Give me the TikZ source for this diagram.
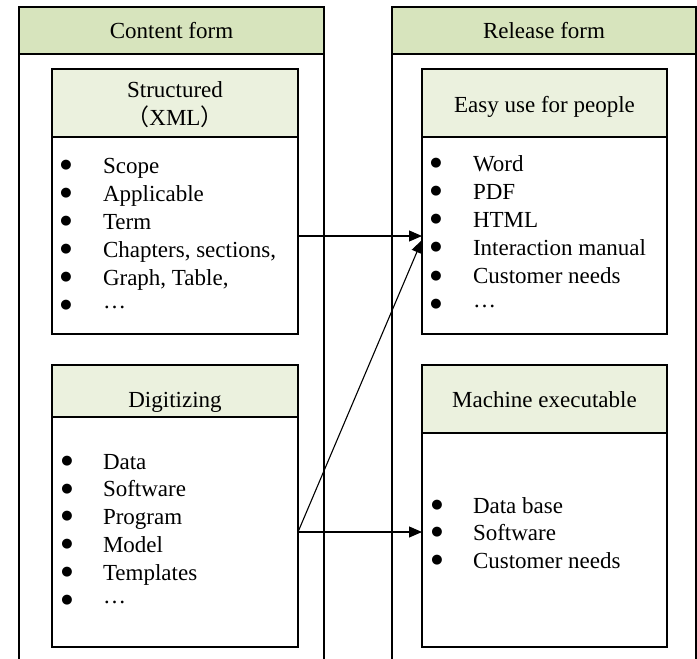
\documentclass[tikz,border=0pt]{standalone}
\usepackage{fontspec}
\setmainfont{Liberation Serif}
\newfontfamily\cjk{Noto Sans CJK SC}
\newfontfamily\dejavu{DejaVu Sans}
\usetikzlibrary{arrows.meta}
\definecolor{headOuter}{RGB}{215,228,189}
\definecolor{headInner}{RGB}{235,241,222}
% mid-height ellipsis for the last list entries
\newcommand{\midellipsis}{\smash{\raisebox{5pt}{…}}}

\begin{document}
\begin{tikzpicture}[x=1pt,y=-1pt,
  every node/.style={font=\fontsize{23}{28}\selectfont, inner sep=0pt, outer sep=0pt},
  frame/.style={draw, line width=1.2pt, rectangle, anchor=north west},
  colhead/.style={frame, fill=headOuter},
  boxhead/.style={frame, fill=headInner},
  label/.style={anchor=base},
  item/.style={anchor=base west},
  bulletmark/.style={anchor=center, font=\dejavu\fontsize{13}{13}\selectfont},
  colline/.style={line width=1.1pt},
  arr/.style={line width=1.1pt, -{Triangle[length=13pt,width=11pt]}}
]
\useasboundingbox (0,0) rectangle (697,659);

% --- column headers and open-ended side lines ---
\node[colhead, minimum width=305pt, minimum height=47pt] (lhead) at (19,7) {};
\node[label] (lheadText) at (171.5,38) {Content form};
\node[colhead, minimum width=304pt, minimum height=47pt] (rhead) at (392,7) {};
\node[label] (rheadText) at (544,38) {Release form};
\coordinate (lbotL) at (19,659);
\coordinate (lbotR) at (324,659);
\coordinate (rbotL) at (392,659);
\coordinate (rbotR) at (696,659);
\draw[colline] (lhead.south west) -- (lbotL);
\draw[colline] (lhead.south east) -- (lbotR);
\draw[colline] (rhead.south west) -- (rbotL);
\draw[colline] (rhead.south east) -- (rbotR);

% --- Structured (XML) ---
\node[frame, minimum width=246pt, minimum height=265pt] (sbox) at (52,69) {};
\node[boxhead, minimum width=246pt, minimum height=68pt] (shead) at (52,69) {};
\node[label] (sheadA) at (175,97) {Structured};
\node[label] (sheadB) at (175,125) {{\cjk （}XML{\cjk ）}};
\foreach \t [count=\i] in {Scope, Applicable, Term, {Chapters, sections,}, {Graph, Table,}, \midellipsis}{
  \node[bulletmark] (sb\i) at (66,{173+28*(\i-1)-8}) {●};
  \node[item] (s\i) at (103,{173+28*(\i-1)}) {\t};
}

% --- Digitizing ---
\node[frame, minimum width=246pt, minimum height=282pt] (dbox) at (52,365) {};
\node[boxhead, minimum width=246pt, minimum height=52pt] (dhead) at (52,365) {};
\node[label] (dheadText) at (175,407) {Digitizing};
\foreach \t [count=\i] in {Data, Software, Program, Model, Templates, \midellipsis}{
  \node[bulletmark] (db\i) at (67,{469+27.8*(\i-1)-8}) {●};
  \node[item] (d\i) at (103,{469+27.8*(\i-1)}) {\t};
}

% --- Easy use for people ---
\node[frame, minimum width=245pt, minimum height=265pt] (ebox) at (422,69) {};
\node[boxhead, minimum width=245pt, minimum height=68pt] (ehead) at (422,69) {};
\node[label] (eheadText) at (544.5,112) {Easy use for people};
\foreach \t [count=\i] in {Word, PDF, HTML, Interaction manual, Customer needs, \midellipsis}{
  \node[bulletmark] (eb\i) at (436,{171+28.2*(\i-1)-8}) {●};
  \node[item] (e\i) at (473,{171+28.2*(\i-1)}) {\t};
}

% --- Machine executable ---
\node[frame, minimum width=245pt, minimum height=282pt] (mbox) at (422,365) {};
\node[boxhead, minimum width=245pt, minimum height=68pt] (mhead) at (422,365) {};
\node[label] (mheadText) at (544.5,407) {Machine executable};
\foreach \t [count=\i] in {Data base, Software, Customer needs}{
  \node[bulletmark] (mb\i) at (437,{513+27.5*(\i-1)-8}) {●};
  \node[item] (m\i) at (473,{513+27.5*(\i-1)}) {\t};
}

% --- connectors ---
\coordinate (sOut) at (sbox.east |- 0,236);
\coordinate (eIn)  at (ebox.west |- 0,236);
\coordinate (eIn2) at (ebox.west |- 0,240);
\coordinate (dOut) at (dbox.east |- 0,532);
\coordinate (mIn)  at (mbox.west |- 0,532);
\draw[arr] (sOut) -- (eIn);
\draw[arr] (dOut) -- (mIn);
\draw[arr] (dOut) -- (eIn2);
\end{tikzpicture}
\end{document}
